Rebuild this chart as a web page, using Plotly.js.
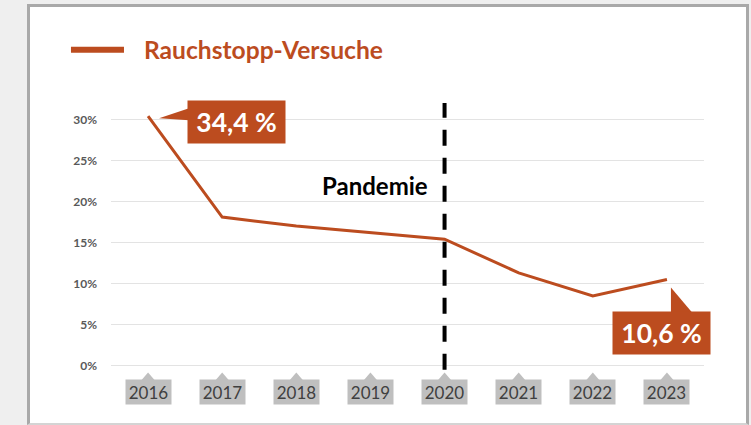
<!DOCTYPE html>
<html><head><meta charset="utf-8">
<script src="https://cdn.plot.ly/plotly-3.0.1.min.js"></script>
<style>
html,body{margin:0;padding:0;background:#efefef;width:751px;height:425px;overflow:hidden;}
#frame{position:absolute;left:27px;top:4px;width:716px;height:416px;background:#fff;border-left:3px solid #a9a9a9;border-top:3px solid #a9a9a9;border-right:3px solid #a9a9a9;border-bottom:2px solid #d4d4d4;}
#chart{position:absolute;left:0;top:0;width:751px;height:425px;}
</style></head>
<body><div id="frame"></div><div id="chart"></div>
<script>
const years = ['2016','2017','2018','2019','2020','2021','2022','2023'];
const values = [30.4, 18.1, 17.0, 16.2, 15.4, 11.3, 8.5, 10.5];
const seriesName = 'Rauchstopp-Versuche';
const calloutYears = ['2016','2023'];
const calloutTexts = ['34,4 %','10,6 %'];
const pandemicYear = '2020';
const pandemicLabel = 'Pandemie';

const rust = '#BC4C1F';
const font = 'Lato, "Open Sans", sans-serif';
const idx = yr => years.indexOf(yr);

const traces = [
  {x: years, y: values, type:'scatter', mode:'lines', name: seriesName,
   line:{color: rust, width:3}, hoverinfo:'skip', showlegend:false}
];

const annotations = years.map(yr => ({
  x: idx(yr), y: 0, xref:'x', yref:'y', yshift:-26, text: yr, showarrow:false,
  bgcolor:'#bfbfbf', width:45, height:24, borderpad:0,
  font:{family:font, size:17, color:'#404040'}
}));

// callouts
const cOff = [{xs:88.5, ys:-6}, {xs:-5.5, ys:-54}];
calloutYears.forEach((yr,i)=>{
  const v = values[idx(yr)];
  annotations.push({x: idx(yr), y: v, xref:'x', yref:'y', xshift:cOff[i].xs, yshift:cOff[i].ys,
    text: '<b>'+calloutTexts[i]+'</b>', showarrow:false, bgcolor: rust, width:97, height:42,
    borderpad:0, font:{family:font, size:26.5, color:'#fff'}});
});
annotations.push({x: idx(pandemicYear), y: 21.9, xref:'x', yref:'y', xanchor:'right', xshift:-15,
  text:'<b>'+pandemicLabel+'</b>', showarrow:false, font:{family:font, size:24, color:'#000'}});
// legend text
annotations.push({x:0.0518, y:1.1911, xref:'paper', yref:'paper', xanchor:'left', yanchor:'middle',
  text:'<b>'+seriesName+'</b>', showarrow:false, font:{family:font, size:24.6, color: rust}});

const i0 = idx(calloutYears[0]), i1 = idx(calloutYears[1]);
const shapes = [
  {type:'line', xref:'x', yref:'y', x0: idx(pandemicYear), x1: idx(pandemicYear), y0:-0.5, y1:32.2,
   line:{color:'#000', width:4, dash:'16px,12px'}},
  {type:'path', xref:'x', yref:'y', xsizemode:'pixel', ysizemode:'pixel',
   xanchor: i0, yanchor: values[i0], path:'M 11 -2 L 41 8 L 41 -4 Z', fillcolor: rust, line:{width:0}},
  {type:'path', xref:'x', yref:'y', xsizemode:'pixel', ysizemode:'pixel',
   xanchor: i1, yanchor: values[i1], path:'M 4 -8 L 4 -34 L 26 -34 Z', fillcolor: rust, line:{width:0}},
  {type:'line', xref:'paper', yref:'paper', x0:-0.0675, x1:0.0219, y0:1.1911, y1:1.1911,
   line:{color: rust, width:6}}
];
// small pointers above year labels
years.forEach(yr => shapes.push({type:'path', xref:'x', yref:'y', xsizemode:'pixel', ysizemode:'pixel',
  xanchor: idx(yr), yanchor: 0, path:'M -6.5 -14.5 L 6.5 -14.5 L 0 -7 Z', fillcolor:'#bfbfbf', line:{width:0}}));

const layout = {
  width:751, height:425,
  margin:{l:111, r:47, t:102.5, b:42.5},
  paper_bgcolor:'rgba(0,0,0,0)', plot_bgcolor:'rgba(0,0,0,0)',
  showlegend:false,
  xaxis:{type:'category', range:[-0.5,7.5], showgrid:false, zeroline:false, showline:false,
    showticklabels:false, ticks:'', fixedrange:true},
  yaxis:{range:[-2,32], dtick:5, tick0:0, ticksuffix:'%', showgrid:true, gridcolor:'#e3e3e3', gridwidth:1.5,
    zeroline:false, showline:false, ticks:'', ticklabelstandoff:13,
    tickfont:{family:font, size:12, color:'#595959', weight:'bold'}, fixedrange:true},
  annotations, shapes
};
Plotly.newPlot('chart', traces, layout, {displayModeBar:false, staticPlot:true});
</script></body></html>
